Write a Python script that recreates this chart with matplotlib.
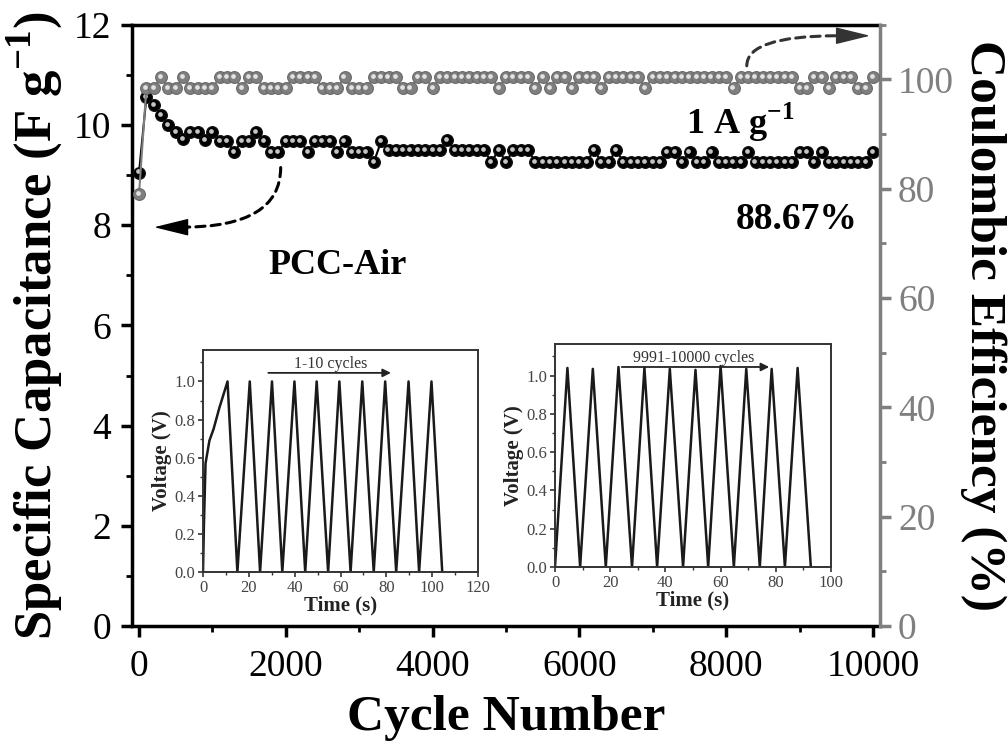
import matplotlib.pyplot as plt
from matplotlib.ticker import MultipleLocator, FormatStrFormatter
from matplotlib import transforms

plt.rcParams['font.family'] = ['Liberation Serif', 'DejaVu Serif']
plt.rcParams['mathtext.fontset'] = 'custom'
plt.rcParams['mathtext.rm'] = 'Liberation Serif'
plt.rcParams['mathtext.bf'] = 'Liberation Serif:bold'

# cycling data, one point every 100 cycles
cycles = list(range(0, 10001, 100))

capacitance = [
    9.05, 10.55, 10.40, 10.20, 10.00, 9.85, 9.72, 9.85, 9.85, 9.70,
    9.85, 9.68, 9.68, 9.46, 9.68, 9.68, 9.85, 9.68, 9.46, 9.46,
    9.68, 9.68, 9.68, 9.46, 9.68, 9.68, 9.68, 9.46, 9.68, 9.46,
    9.46, 9.46, 9.26, 9.68, 9.50, 9.50, 9.50, 9.50, 9.50, 9.50,
    9.50, 9.50, 9.70, 9.50, 9.50, 9.50, 9.50, 9.50, 9.26, 9.50,
    9.26, 9.50, 9.50, 9.50, 9.26, 9.26, 9.26, 9.26, 9.26, 9.26,
    9.26, 9.26, 9.50, 9.26, 9.26, 9.50, 9.26, 9.26, 9.26, 9.26,
    9.26, 9.26, 9.46, 9.46, 9.26, 9.46, 9.26, 9.26, 9.46, 9.26,
    9.26, 9.26, 9.26, 9.46, 9.26, 9.26, 9.26, 9.26, 9.26, 9.26,
    9.46, 9.46, 9.26, 9.46, 9.26, 9.26, 9.26, 9.26, 9.26, 9.26,
    9.46,
]

efficiency = [
    79.0, 98.4, 98.4, 100.4, 98.4, 98.4, 100.4, 98.4, 98.4, 98.4,
    98.4, 100.4, 100.4, 100.4, 98.4, 100.4, 100.4, 98.4, 98.4, 98.4,
    98.4, 100.4, 100.4, 100.4, 100.4, 98.4, 98.4, 98.4, 100.4, 98.4,
    98.4, 98.4, 100.4, 100.4, 100.4, 100.4, 98.4, 98.4, 100.4, 100.4,
    98.4, 100.4, 100.4, 100.4, 100.4, 100.4, 100.4, 100.4, 100.4, 98.4,
    100.4, 100.4, 100.4, 100.4, 98.4, 100.4, 98.4, 100.4, 100.4, 98.4,
    100.4, 100.4, 100.4, 98.4, 100.4, 100.4, 100.4, 100.4, 100.4, 98.4,
    100.4, 100.4, 100.4, 100.4, 100.4, 100.4, 100.4, 100.4, 100.4, 100.4,
    100.4, 98.4, 100.4, 100.4, 100.4, 100.4, 100.4, 100.4, 100.4, 100.4,
    98.4, 98.4, 100.4, 100.4, 98.4, 100.4, 100.4, 100.4, 98.4, 98.4,
    100.4,
]

# GCD curves, cycles 1-10
time_first = [0, 0.4, 1.1, 2.8, 4.6, 7.1, 10.7, 15.0, 20.4, 24.9, 30.1, 34.6,
              39.9, 44.6, 49.6, 54.6, 59.5, 64.4, 69.5, 74.5, 79.5, 84.3,
              89.7, 94.3, 99.7, 104.4]
volt_first = [0, 0.25, 0.57, 0.69, 0.75, 0.86, 1.0, 0, 1.0, 0, 1.0, 0,
              1.0, 0, 1.0, 0, 1.0, 0, 1.0, 0, 1.0, 0, 1.0, 0, 1.0, 0]

# GCD curves, cycles 9991-10000
time_last = [0, 4.5, 9.1, 13.7, 18.4, 23.0, 27.9, 32.4, 37.0, 41.6, 46.4,
             50.9, 55.5, 60.0, 64.8, 69.3, 74.2, 78.5, 83.3, 87.9, 92.7]
volt_last = [0, 1.04, 0, 1.035, 0, 1.045, 0, 1.04, 0, 1.035, 0,
             1.03, 0, 1.05, 0, 1.035, 0, 1.035, 0, 1.04, 0]

GRAY = '#7f7f7f'

fig = plt.figure(figsize=(10.08, 7.49), dpi=100)
ax = fig.add_axes([0.131, 0.164, 0.742, 0.803])
ax2 = ax.twinx()


def spheres(axis, x, y, face, edge, shine):
    axis.plot(x, y, '-', color=face, lw=1.5, marker='o', ms=8.5,
              mfc=face, mec=edge, mew=0.8, zorder=3)
    off = transforms.offset_copy(axis.transData, fig=fig, x=-0.8, y=0.8,
                                 units='points')
    axis.plot(x, y, 'o', ms=3.4, color=shine, mew=0, transform=off, zorder=4)


spheres(ax, cycles, capacitance, 'black', '#111111', '#c4c4c4')
spheres(ax2, cycles, efficiency, GRAY, '#6a6a6a', '#e2e2e2')

ax.set_xlim(-95, 10095)
ax.set_ylim(0, 12)
ax2.set_ylim(0, 110)

ax.xaxis.set_major_locator(MultipleLocator(2000))
ax.xaxis.set_minor_locator(MultipleLocator(1000))
ax.yaxis.set_major_locator(MultipleLocator(2))
ax.yaxis.set_minor_locator(MultipleLocator(1))
ax2.yaxis.set_major_locator(MultipleLocator(20))
ax2.yaxis.set_minor_locator(MultipleLocator(10))

for s in ['left', 'top', 'bottom']:
    ax.spines[s].set_linewidth(2.5)
ax.spines['right'].set_visible(False)
for s in ['left', 'top', 'bottom']:
    ax2.spines[s].set_visible(False)
ax2.spines['right'].set_linewidth(2.5)
ax2.spines['right'].set_color(GRAY)

ax.tick_params(which='major', direction='out', length=8, width=2.5,
               labelsize=27, pad=4)
ax.tick_params(axis='x', which='major', pad=9)
ax.tick_params(axis='y', which='major', pad=7)
ax.tick_params(which='minor', direction='out', length=4, width=2)
ax.tick_params(top=False, right=False, which='both')
ax2.tick_params(which='major', direction='out', length=8, width=2.5,
                labelsize=27, pad=5, color=GRAY, labelcolor=GRAY)
ax2.tick_params(which='minor', direction='out', length=4, width=2, color=GRAY)

ax.set_xlabel('Cycle Number', fontsize=37, fontweight='bold', labelpad=8)
ax.set_ylabel(r'Specific Capacitance (F g$^{\mathbf{-1}}$)', fontsize=38,
              fontweight='bold', labelpad=6)
ax2.set_ylabel('Coulombic Efficiency (%)', fontsize=37, fontweight='bold',
               rotation=270, va='bottom', labelpad=4)

ax.text(8185, 9.82, r'1 A g$^{\mathbf{-1}}$', fontsize=26, fontweight='bold',
        ha='center', va='baseline')
ax.text(8963, 7.92, '88.67%', fontsize=27, fontweight='bold',
        ha='center', va='baseline')
ax.text(2700, 7.02, 'PCC-Air', fontsize=26, fontweight='bold',
        ha='center', va='baseline')


def dashed_arrow(start, base, tip, color):
    # dashed curved stem, then a solid filled head
    ax.annotate('', xy=base, xytext=start,
                arrowprops=dict(arrowstyle='-', linestyle=(0, (3, 2)), lw=2.2,
                                color=color, shrinkA=0, shrinkB=0,
                                connectionstyle='angle3,angleA=90,angleB=0'),
                zorder=6)
    ax.annotate('', xy=tip, xytext=base,
                arrowprops=dict(arrowstyle='-|>,head_length=1.1,head_width=0.27',
                                lw=1, color=color, mutation_scale=20,
                                shrinkA=0, shrinkB=0),
                zorder=6)


dashed_arrow((1930, 9.15), (587, 7.96), (205, 7.96), 'black')
dashed_arrow((8280, 11.18), (9523, 11.78), (9960, 11.78), '#333333')


def inset(rect, t, v, xmax, label, arrow_from, arrow_to, text_x):
    ia = fig.add_axes(rect)
    ia.set_zorder(10)
    ia.plot(t, v, '-', color='#1a1a1a', lw=1.8)
    ia.set_xlim(0, xmax)
    ia.set_ylim(0, 1.165)
    ia.xaxis.set_major_locator(MultipleLocator(20))
    ia.xaxis.set_minor_locator(MultipleLocator(10))
    ia.yaxis.set_major_locator(MultipleLocator(0.2))
    ia.yaxis.set_minor_locator(MultipleLocator(0.1))
    ia.yaxis.set_major_formatter(FormatStrFormatter('%.1f'))
    for s in ia.spines.values():
        s.set_linewidth(1.4)
        s.set_color('#333333')
    ia.tick_params(which='both', direction='out', color='#333333',
                   labelsize=12, labelcolor='#444444', pad=2)
    ia.tick_params(which='major', length=3.5, width=1.2)
    ia.tick_params(which='minor', length=2, width=1)
    ia.set_xlabel('Time (s)', fontsize=15, fontweight='bold',
                  color='#222222', labelpad=0)
    ia.set_ylabel('Voltage (V)', fontsize=15, fontweight='bold',
                  color='#222222', labelpad=2)
    ia.annotate('', xy=(arrow_to, 1.045), xytext=(arrow_from, 1.045),
                arrowprops=dict(arrowstyle='-|>', color='#222222', lw=1.3,
                                mutation_scale=12, shrinkA=0, shrinkB=0))
    ia.text(text_x, 1.09, label, fontsize=11.5, color='#333333',
            ha='center', va='center')
    return ia


inset([0.2014, 0.2363, 0.2728, 0.2964], time_first, volt_first, 120,
      '1-10 cycles', 28.5, 82, 55.5)
inset([0.5506, 0.2430, 0.2738, 0.2977], time_last, volt_last, 100,
      '9991-10000 cycles', 24.2, 77.6, 50.3)

fig.savefig('out.png', dpi=100)
